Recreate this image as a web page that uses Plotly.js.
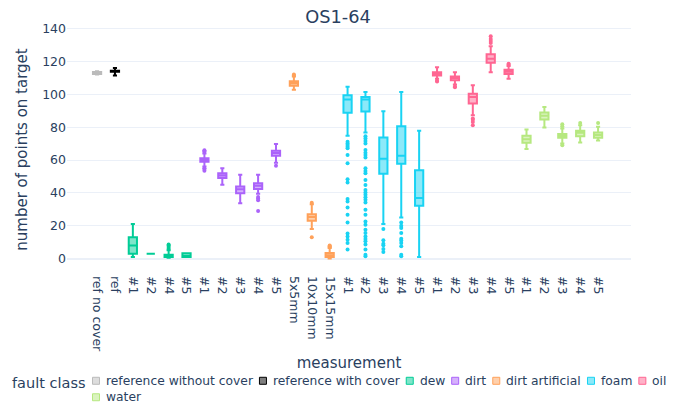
<!DOCTYPE html>
<html>
<head>
<meta charset="utf-8">
<script src="https://cdn.plot.ly/plotly-3.0.1.min.js"></script>
<style>html,body{margin:0;padding:0;background:#fff}#chart{width:676px;height:413px}</style>
</head>
<body>
<div id="chart"></div>
<script>
// Category ids (unique) and their tick labels
const categories = ['ref no cover','ref','dew #1','dew #2','dew #4','dew #5',
  'dirt #1','dirt #2','dirt #3','dirt #4','dirt #5','5x5mm','10x10mm','15x15mm',
  'foam #1','foam #2','foam #3','foam #4','foam #5',
  'oil #1','oil #2','oil #3','oil #4','oil #5',
  'water #1','water #2','water #3','water #4','water #5'];
const tickLabels = ['ref no cover','ref','#1','#2','#4','#5',
  '#1','#2','#3','#4','#5','5x5mm','10x10mm','15x15mm',
  '#1','#2','#3','#4','#5','#1','#2','#3','#4','#5','#1','#2','#3','#4','#5'];
const categoryClass = ['reference without cover','reference with cover','dew','dew','dew','dew',
  'dirt','dirt','dirt','dirt','dirt','dirt artificial','dirt artificial','dirt artificial',
  'foam','foam','foam','foam','foam','oil','oil','oil','oil','oil',
  'water','water','water','water','water'];

// Box statistics per category (same order as categories)
const lowerFence = [112,111.5, 1,3,0.5,1, 56,45,33.7,39.4,58.4, 102.8,18,0,
  74.7,76.8,21,25,1, 109.5,106,87.3,113.5,109.5, 66.7,79.8,70.1,70.7,71.9];
const q1 = [112.3,113.8, 3,3,1,1, 59,49,39.8,42.4,62.6, 105.2,23,1,
  88.7,89.5,51.7,57.8,32.1, 111.5,108.5,94.4,119.2,112.3, 70.5,84.7,73.5,74.5,73.5];
const median = [113,114, 8,3,1.5,1.5, 60,50.5,42.2,44.4,64.2, 106.7,25.3,2,
  96.8,96.8,60.8,62.6,36.8, 112.5,109.9,98.4,121.6,113.7, 72.7,86.9,74.7,76.6,75.2];
const q3 = [113.6,114.3, 13,3,2.3,3.3, 61,52,43.8,45.9,65.6, 107.9,27,3.4,
  99.4,98.4,73.7,80.6,53.7, 113.5,110.9,100.4,124.4,115, 74.7,88.9,75.8,77.8,76.8];
const upperFence = [114,116, 21,3,5,3.3, 64,55,51,51,69.7, 110.9,33,6.5,
  104.6,101.4,89.7,101.4,77.8, 116.5,113.5,105.5,129.3,117.2, 78.6,92.3,79.2,81.2,80.2];

// Outlier points
const outlierCategory = [
  'dew #4','dew #4','dew #4','dew #4',
  'dirt #1','dirt #1','dirt #1','dirt #1','dirt #1','dirt #1',
  'dirt #4','dirt #4','dirt #4','dirt #4','dirt #5',
  '5x5mm','5x5mm','10x10mm','10x10mm','15x15mm','15x15mm','15x15mm',
  'foam #1','foam #1','foam #1','foam #1','foam #1','foam #1','foam #1','foam #1','foam #1','foam #1',
  'foam #1','foam #1','foam #1','foam #1','foam #1','foam #1','foam #1','foam #1','foam #1',
  'foam #2','foam #2','foam #2','foam #2','foam #2','foam #2','foam #2','foam #2','foam #2','foam #2',
  'foam #2','foam #2','foam #2','foam #2','foam #2','foam #2','foam #2','foam #2','foam #2','foam #2',
  'foam #2','foam #2','foam #2','foam #2','foam #2','foam #2','foam #2','foam #2','foam #2','foam #2',
  'foam #2','foam #2',
  'foam #3','foam #3','foam #3','foam #3','foam #3','foam #3',
  'foam #4','foam #4','foam #4','foam #4','foam #4','foam #4','foam #4','foam #4','foam #4','foam #4',
  'oil #1','oil #1','oil #2','oil #2','oil #3','oil #3','oil #3','oil #3',
  'oil #4','oil #4','oil #4','oil #4','oil #5','oil #5',
  'water #3','water #3','water #3','water #4','water #5'];
const outlierValue = [
  6,7,8,8.5,
  65,65.5,66,55,54.5,53.5,
  37.5,36.5,35.5,29,56.5,
  111.5,112,34,13,7,7.5,8,
  71.1,70,69.1,68,67.1,63,58,48.3,46.3,36.2,
  34.7,31.1,26.7,22,15.2,13.5,11.5,9.5,5.5,
  74.5,73.1,71.5,70.1,66.1,64.4,63,61.6,55,53.3,
  51.9,47.9,44.8,41.8,40.2,38.8,37.4,35.8,34.1,29.7,
  26.7,22.6,20.6,17.6,15.6,13.5,11.9,10.5,8.5,5.5,
  2.4,1.4,
  18,11.1,9,8.1,5.9,4,
  22,20,18.6,15.6,12,11,9.5,7.5,2.4,1.4,
  107.8,108.2,104.8,104.3,85.3,84.5,83.2,81.2,
  131.3,132.5,133.7,135.3,118.6,118.2,
  80.6,81.8,69,82.6,82.6];

const classNames = ['reference without cover','reference with cover','dew','dirt','dirt artificial','foam','oil','water'];
const classColors = ['#BBBBBB','#000000','#00CC96','#AB63FA','#FFA15A','#19D3F3','#FF6692','#B6E880'];
const legendTitle = 'fault class';

function rgba(hex, a) {
  const n = parseInt(hex.slice(1), 16);
  return 'rgba(' + ((n >> 16) & 255) + ',' + ((n >> 8) & 255) + ',' + (n & 255) + ',' + a + ')';
}

const traces = [];
classNames.forEach((cls, ci) => {
  const idx = categories.map((c, i) => i).filter(i => categoryClass[i] === cls);
  traces.push({
    type: 'box', name: cls, legendgroup: cls, showlegend: false,
    x: idx.map(i => categories[i]),
    q1: idx.map(i => q1[i]), median: idx.map(i => median[i]), q3: idx.map(i => q3[i]),
    lowerfence: idx.map(i => lowerFence[i]), upperfence: idx.map(i => upperFence[i]),
    boxpoints: false, width: 0.46,
    fillcolor: rgba(classColors[ci], 0.5),
    marker: {color: classColors[ci]},
    line: {color: classColors[ci], width: 2}
  });
});
classNames.forEach((cls, ci) => {
  const oi = outlierCategory.map((c, i) => i).filter(i => categoryClass[categories.indexOf(outlierCategory[i])] === cls);
  if (!oi.length) return;
  traces.push({
    type: 'scatter', mode: 'markers', showlegend: false, legendgroup: cls, hoverinfo: 'y',
    x: oi.map(i => outlierCategory[i]), y: oi.map(i => outlierValue[i]),
    marker: {color: classColors[ci], size: 4}
  });
});

// Layout geometry (pixels)
const W = 676, H = 413, M = {l: 67, r: 45, t: 24, b: 137.5};
const pw = W - M.l - M.r, ph = H - M.t - M.b;
const px2x = px => (px - M.l) / pw;
const px2y = py => 1 - (py - M.t) / ph;

// Compact legend drawn below the plot
const FONT = 'DejaVu Sans, sans-serif';
const legendFontSize = 12.3;
const ctx = document.createElement('canvas').getContext('2d');
ctx.font = legendFontSize + 'px "DejaVu Sans"';
const annotations = [{
  text: legendTitle, xref: 'paper', yref: 'paper', x: px2x(10), y: px2y(384),
  xanchor: 'left', yanchor: 'middle', showarrow: false, font: {size: 14.5, family: FONT, color: '#2a3f5f'}
}];
const shapes = [];
let cx = 96, cy = 381.5;
classNames.forEach((cls, ci) => {
  const tw = ctx.measureText(cls).width;
  if (cx + 9 + tw > 668) { cx = 96; cy += 16.5; }
  shapes.push({type: 'rect', xref: 'paper', yref: 'paper',
    x0: px2x(cx - 3.5), x1: px2x(cx + 3.5), y0: px2y(cy - 3.5), y1: px2y(cy + 3.5),
    fillcolor: rgba(classColors[ci], 0.5), line: {color: classColors[ci], width: 1}});
  annotations.push({text: cls, xref: 'paper', yref: 'paper', x: px2x(cx + 9), y: px2y(cy),
    xanchor: 'left', yanchor: 'middle', showarrow: false, xshift: -1,
    font: {size: legendFontSize, family: FONT, color: '#2a3f5f'}});
  cx += 9 + tw + 11;
});

const layout = {
  width: W, height: H,
  font: {family: FONT, size: 12.5, color: '#2a3f5f'},
  paper_bgcolor: '#fff', plot_bgcolor: '#fff',
  margin: M,
  title: {text: 'OS1-64', x: 0.5, xanchor: 'center', y: 0.959, yanchor: 'middle', font: {size: 17.8}},
  boxmode: 'overlay',
  xaxis: {
    type: 'category', categoryorder: 'array', categoryarray: categories,
    tickmode: 'array', tickvals: categories, ticktext: tickLabels,
    tickangle: 90, range: [-1.68, 29.84], showgrid: false, zeroline: false,
    showline: false, ticks: '',
    title: {text: 'measurement', font: {size: 15}, standoff: 6}
  },
  yaxis: {
    range: [-10, 142.8], tickvals: [0,20,40,60,80,100,120,140],
    gridcolor: '#EBF0F8', zeroline: true, zerolinecolor: '#EBF0F8', zerolinewidth: 2,
    ticks: '', showline: false,
    title: {text: 'number of points on target', font: {size: 15}}
  },
  showlegend: false,
  annotations: annotations,
  shapes: shapes
};

Plotly.newPlot('chart', traces, layout, {displayModeBar: false, staticPlot: true});
</script>
</body>
</html>
